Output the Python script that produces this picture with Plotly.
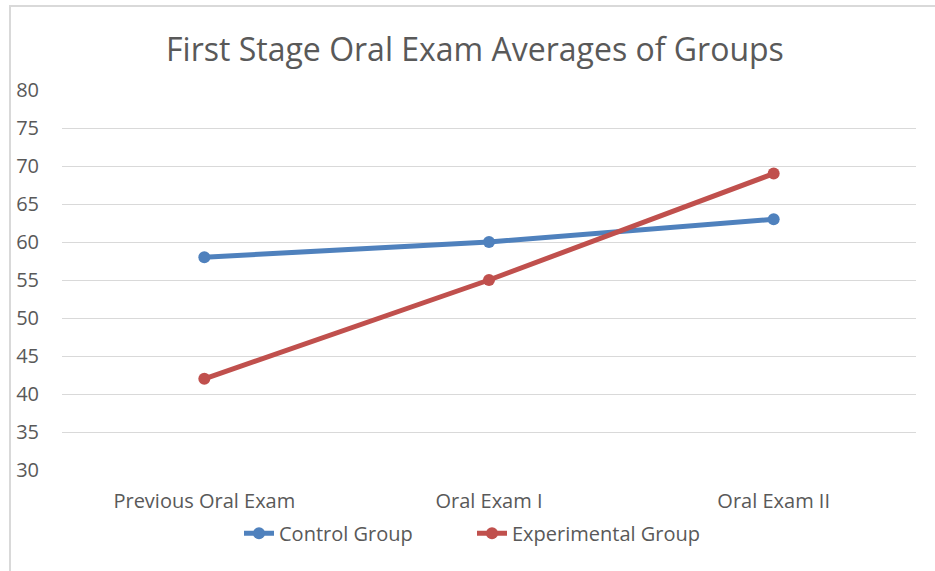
import plotly.graph_objects as go

categories = ["Previous Oral Exam", "Oral Exam I", "Oral Exam II"]
control = [58, 60, 63]
experimental = [42, 55, 69]
y_ticks = [30, 35, 40, 45, 50, 55, 60, 65, 70, 75, 80]

FONT = "Open Sans"
GREY = "#595959"

fig = go.Figure()
fig.add_trace(go.Scatter(
    x=categories, y=control, name="Control Group", mode="lines+markers",
    line=dict(color="#4f81bd", width=5, shape="spline", smoothing=0.5),
    marker=dict(size=12, color="#4f81bd"),
))
fig.add_trace(go.Scatter(
    x=categories, y=experimental, name="Experimental Group", mode="lines+markers",
    line=dict(color="#c0504d", width=5, shape="spline", smoothing=0.5),
    marker=dict(size=12, color="#c0504d"),
))

fig.update_layout(
    width=935, height=571,
    margin=dict(l=62, r=19, t=90, b=101),
    paper_bgcolor="white", plot_bgcolor="white",
    font=dict(family=FONT, color=GREY, size=20),
    title=dict(text="First Stage Oral Exam Averages of Groups",
               x=0.508, xanchor="center", y=0.912, yanchor="middle",
               font=dict(family=FONT, size=32, color=GREY)),
    showlegend=True,
    legend=dict(orientation="h", x=(239 - 62) / 854, xanchor="left", y=-0.115, yanchor="top",
                font=dict(family=FONT, size=20, color=GREY),
                itemwidth=30, entrywidth=188, entrywidthmode="pixels",
                traceorder="normal"),
    xaxis=dict(range=[-0.5, 2.5], showgrid=False, showline=False, zeroline=False, ticks="",
               ticklabelstandoff=17, tickfont=dict(size=20, color=GREY)),
    yaxis=dict(range=[30, 80], tickvals=y_ticks, showgrid=True, gridcolor="#d9d9d9",
               gridwidth=1.3, zeroline=False, showline=False, ticks="",
               ticklabelstandoff=22, tickfont=dict(size=20, color=GREY)),
)

fig.add_shape(type="rect", xref="paper", yref="paper",
              x0=-52/854, x1=1.1, y0=-0.3, y1=1 + 84/380,
              line=dict(color="#d9d9d9", width=2), fillcolor="rgba(0,0,0,0)", layer="below")

fig.write_html("out.html", config={"displayModeBar": False},
               post_script="document.body.style.margin='0';document.body.style.overflow='hidden';")
